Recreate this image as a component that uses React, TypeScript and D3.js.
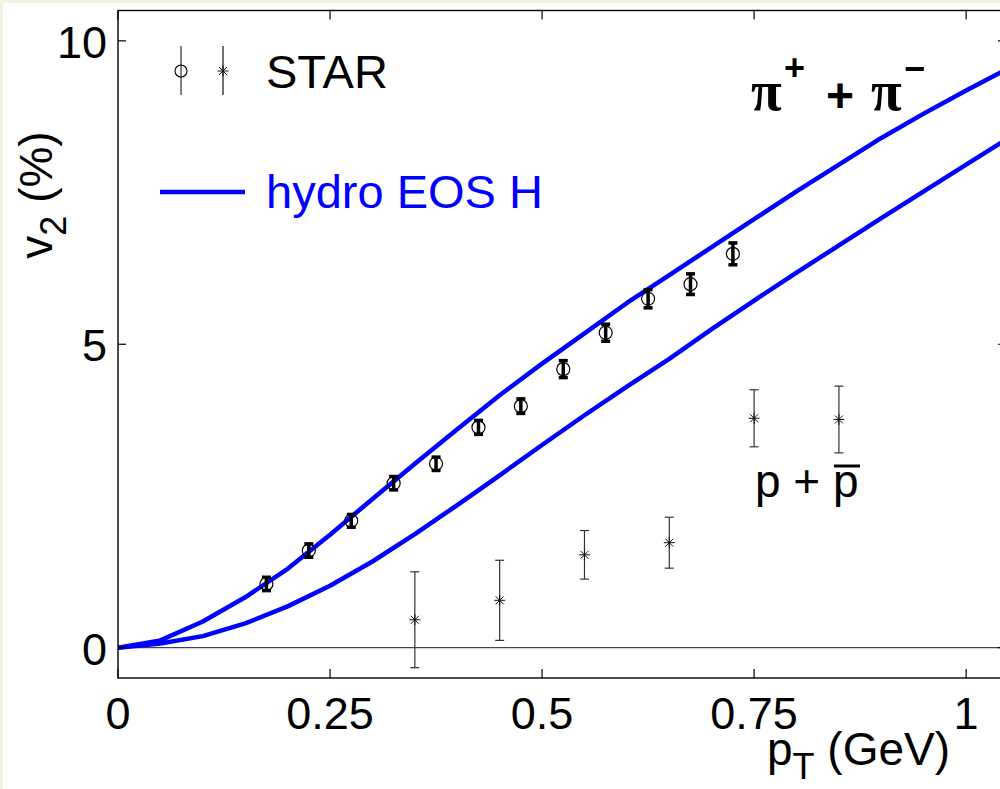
import React from 'react';
import * as d3 from 'd3';

// hydro EOS H curves (pions upper, protons lower)
const PT_HYDRO = [0, 0.05, 0.1, 0.15, 0.2, 0.25, 0.3, 0.35, 0.4, 0.45, 0.5, 0.55, 0.6, 0.65, 0.7, 0.75, 0.8, 0.85, 0.9, 0.95, 1.0, 1.05];
const V2_HYDRO_PION = [0, 0.12, 0.43, 0.83, 1.3, 1.86, 2.45, 3.03, 3.6, 4.16, 4.68, 5.18, 5.68, 6.14, 6.6, 7.06, 7.52, 7.96, 8.4, 8.8, 9.18, 9.55];
const V2_HYDRO_PROTON = [0, 0.07, 0.19, 0.4, 0.68, 1.02, 1.42, 1.87, 2.35, 2.84, 3.34, 3.83, 4.3, 4.76, 5.25, 5.72, 6.18, 6.63, 7.08, 7.52, 7.96, 8.4];

// STAR data
const PT_PION = [0.175, 0.225, 0.275, 0.325, 0.375, 0.425, 0.475, 0.525, 0.575, 0.625, 0.675, 0.725];
const V2_PION = [1.05, 1.6, 2.09, 2.71, 3.03, 3.63, 3.98, 4.59, 5.19, 5.75, 5.99, 6.49];
const ERR_PION = [0.11, 0.11, 0.105, 0.11, 0.11, 0.115, 0.12, 0.14, 0.14, 0.15, 0.17, 0.18];

const PT_PROTON = [0.35, 0.45, 0.55, 0.65, 0.75, 0.85];
const V2_PROTON = [0.46, 0.78, 1.53, 1.73, 3.78, 3.76];
const ERR_PROTON = [0.79, 0.66, 0.4, 0.42, 0.47, 0.55];

const X_TICKS = [0, 0.25, 0.5, 0.75, 1];
const X_TICK_LABELS = ['0', '0.25', '0.5', '0.75', '1'];
const Y_TICKS = [0, 5, 10];
const Y_TICK_LABELS = ['0', '5', '10'];

const W = 1000;
const H = 789;
const left = 118;
const right = 1006;
const top = 10.5;
const bottom = 678;

const SANS = '"Liberation Sans", Arial, Helvetica, sans-serif';
const SERIF = '"Liberation Serif", "Times New Roman", serif';
const BLUE = '#0000ff';

const Asterisk = ({ cx, cy, r }: { cx: number; cy: number; r: number }) => {
  const d = r * 0.72;
  return (
    <g stroke="#111" strokeWidth={1}>
      <line x1={cx - r} y1={cy} x2={cx + r} y2={cy} />
      <line x1={cx} y1={cy - r} x2={cx} y2={cy + r} />
      <line x1={cx - d} y1={cy - d} x2={cx + d} y2={cy + d} />
      <line x1={cx - d} y1={cy + d} x2={cx + d} y2={cy - d} />
    </g>
  );
};

const App = () => {
  const x = d3.scaleLinear().domain([0, 1.047]).range([left, right]);
  const y = d3.scaleLinear().domain([-0.5, 10.5]).range([bottom, top]);

  const line = d3
    .line<number>()
    .x((_, i) => x(PT_HYDRO[i]))
    .y((d) => y(d));

  return (
    <svg
      width={W}
      height={H}
      style={{ position: 'absolute', left: 0, top: 0, display: 'block' }}
      fontFamily={SANS}
    >
      <rect x={0} y={0} width={W} height={H} fill="#f2f2e6" />
      <rect x={3} y={3} width={W} height={H} fill="#ffffff" />

      <defs>
        <clipPath id="plot">
          <rect x={left} y={top} width={right - left} height={bottom - top} />
        </clipPath>
      </defs>

      {/* zero line */}
      <line x1={left} x2={right} y1={y(0)} y2={y(0)} stroke="#444" strokeWidth={1.2} />

      {/* hydro curves */}
      <g clipPath="url(#plot)" fill="none" stroke={BLUE} strokeWidth={4.5} strokeLinejoin="round">
        <path d={line(V2_HYDRO_PION) || ''} />
        <path d={line(V2_HYDRO_PROTON) || ''} />
      </g>

      {/* proton points */}
      {PT_PROTON.map((p, i) => {
        const cx = x(p);
        const y1 = y(V2_PROTON[i] + ERR_PROTON[i]);
        const y2 = y(V2_PROTON[i] - ERR_PROTON[i]);
        return (
          <g key={'p' + i}>
            <g stroke="#333" strokeWidth={1.2}>
              <line x1={cx} x2={cx} y1={y1} y2={y2} />
              <line x1={cx - 4.5} x2={cx + 4.5} y1={y1} y2={y1} />
              <line x1={cx - 4.5} x2={cx + 4.5} y1={y2} y2={y2} />
            </g>
            <Asterisk cx={cx} cy={y(V2_PROTON[i])} r={5.5} />
          </g>
        );
      })}

      {/* pion points */}
      {PT_PION.map((p, i) => {
        const cx = x(p);
        const y1 = y(V2_PION[i] + ERR_PION[i]);
        const y2 = y(V2_PION[i] - ERR_PION[i]);
        return (
          <g key={'pi' + i}>
            <g stroke="#000" strokeWidth={3.5}>
              <line x1={cx} x2={cx} y1={y1} y2={y2} />
              <line x1={cx - 4.5} x2={cx + 4.5} y1={y1} y2={y1} />
              <line x1={cx - 4.5} x2={cx + 4.5} y1={y2} y2={y2} />
            </g>
            <circle cx={cx} cy={y(V2_PION[i])} r={6.5} fill="none" stroke="#000" strokeWidth={1.2} />
          </g>
        );
      })}

      {/* axes box */}
      <rect x={left} y={top} width={right - left} height={bottom - top} fill="none" stroke="#000" strokeWidth={1.4} />

      {X_TICKS.map((t, i) => (
        <g key={'xt' + i}>
          <line x1={x(t)} x2={x(t)} y1={bottom} y2={bottom - 9} stroke="#000" strokeWidth={1.2} />
          <line x1={x(t)} x2={x(t)} y1={top} y2={top + 9} stroke="#000" strokeWidth={1.2} />
          <text x={x(t)} y={729} fontSize={45} textAnchor="middle" fill="#000">
            {X_TICK_LABELS[i]}
          </text>
        </g>
      ))}
      {Y_TICKS.map((t, i) => (
        <g key={'yt' + i}>
          <line x1={left} x2={left + 8} y1={y(t)} y2={y(t)} stroke="#000" strokeWidth={1.2} />
          <line x1={right} x2={right - 8} y1={y(t)} y2={y(t)} stroke="#000" strokeWidth={1.2} />
          <text x={107} y={y(t) + 17} fontSize={45} textAnchor="end" fill="#000">
            {Y_TICK_LABELS[i]}
          </text>
        </g>
      ))}

      {/* axis labels */}
      <text x={767} y={765} fontSize={46} fill="#000">
        p<tspan fontSize={36} dy={14}>T</tspan>
        <tspan dy={-14}> (GeV)</tspan>
      </text>
      <text transform="translate(52,195) rotate(-90)" fontSize={46} textAnchor="middle" fill="#000">
        v<tspan fontSize={36} dy={14}>2</tspan>
        <tspan dy={-14}> (%)</tspan>
      </text>

      {/* legend */}
      <line x1={181} x2={181} y1={46} y2={95} stroke="#333" strokeWidth={1.2} />
      <circle cx={181} cy={71} r={6} fill="none" stroke="#000" strokeWidth={1.1} />
      <line x1={223} x2={223} y1={46} y2={95} stroke="#111" strokeWidth={1.2} />
      <Asterisk cx={223} cy={71} r={5.5} />
      <text x={266} y={88} fontSize={47} fill="#000">STAR</text>
      <line x1={160} x2={245} y1={192} y2={192} stroke={BLUE} strokeWidth={4.5} />
      <text x={266} y={208} fontSize={47} fill={BLUE}>hydro EOS H</text>

      {/* annotations */}
      <g fill="#000">
        <text x={751} y={110} fontSize={56} fontFamily={SERIF} fontWeight="bold">π</text>
        <text x={784} y={80} fontSize={36} fontWeight="bold">+</text>
        <text x={826} y={112} fontSize={48} fontWeight="bold">+</text>
        <text x={871} y={110} fontSize={56} fontFamily={SERIF} fontWeight="bold">π</text>
        <text x={904} y={81} fontSize={36} fontWeight="bold">−</text>
      </g>
      <text x={755} y={497} fontSize={46} fill="#000">p + p</text>
      <line x1={834} x2={860} y1={466} y2={466} stroke="#000" strokeWidth={3} />
    </svg>
  );
};

export default App;
